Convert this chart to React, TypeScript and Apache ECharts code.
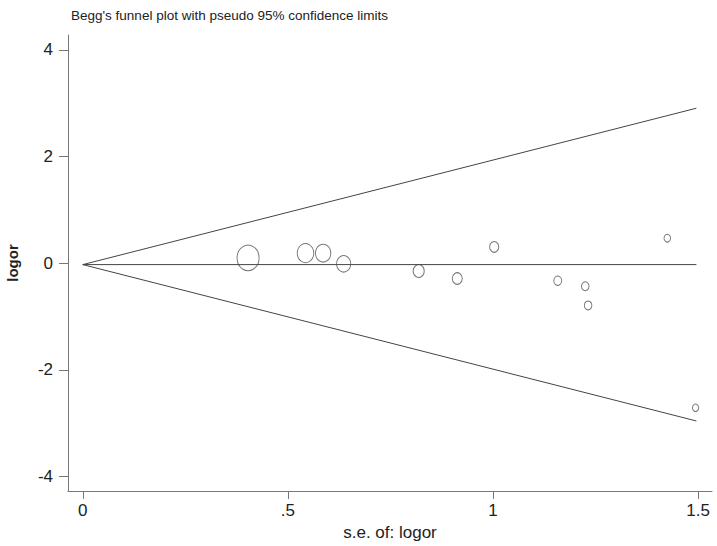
import React, { useEffect, useRef } from "react";
import * as echarts from "echarts";

// Standard error of logor (x) and logor (y) for each study
const seValues = [0.403, 0.543, 0.586, 0.636, 0.819, 0.913, 1.003, 1.158, 1.225, 1.232, 1.425, 1.494];
const logorValues = [0.1, 0.19, 0.19, -0.01, -0.145, -0.285, 0.306, -0.326, -0.43, -0.79, 0.47, -2.71];
const pooledLogor = -0.025;
const xTicks = [0, 0.5, 1, 1.5];
const yTicks = [-4, -2, 0, 2, 4];
const titleText = "Begg's funnel plot with pseudo 95% confidence limits";
const xTitle = "s.e. of: logor";
const yTitle = "logor";

export default function App() {
  const ref = useRef<HTMLDivElement>(null);
  useEffect(() => {
    if (!ref.current) return;
    const chart = echarts.init(ref.current, null, { renderer: "svg" });
    const seMax = Math.max(...seValues) + 0.002;
    const points = seValues.map((s, i) => [s, logorValues[i]]);
    const lineStyle = { color: "#444", width: 1 };
    const font = "'Liberation Sans', Arial, Helvetica, sans-serif";
    chart.setOption({
      animation: false,
      backgroundColor: "#fff",
      textStyle: { fontFamily: font },
      title: {
        text: titleText,
        left: 66,
        top: 3,
        textStyle: { fontSize: 13.5, fontWeight: "normal", color: "#222", fontFamily: font },
      },
      grid: { left: 68, top: 35, right: 5, bottom: 55, containLabel: false, outerBoundsMode: "none" },
      xAxis: {
        type: "value",
        min: -0.036,
        max: 1.534,
        name: xTitle,
        nameLocation: "middle",
        nameGap: 31,
        nameTextStyle: { fontSize: 17, color: "#222", fontFamily: font },
        axisLine: { show: true, onZero: false, lineStyle: { color: "#777", width: 1 } },
        axisTick: { show: true, length: 8, customValues: xTicks, lineStyle: { color: "#777" } },
        axisLabel: {
          customValues: xTicks,
          fontSize: 17,
          color: "#222",
          margin: 11,
          formatter: (v: number) => (v === 0 ? "0" : String(v).replace(/^0\./, ".")),
        },
        splitLine: { show: false },
      },
      yAxis: {
        type: "value",
        min: -4.27,
        max: 4.28,
        name: yTitle,
        nameLocation: "middle",
        nameGap: 48,
        nameRotate: 90,
        nameTextStyle: { fontSize: 15, fontWeight: "bold", color: "#222", fontFamily: font },
        axisLine: { show: true, onZero: false, lineStyle: { color: "#777", width: 1 } },
        axisTick: { show: true, length: 9, customValues: yTicks, lineStyle: { color: "#777" } },
        axisLabel: { customValues: yTicks, fontSize: 17, color: "#222", margin: 15 },
        splitLine: { show: false },
      },
      series: [
        {
          type: "line",
          data: [[0, pooledLogor], [seMax, pooledLogor + 1.96 * seMax]],
          symbol: "none",
          lineStyle,
          silent: true,
        },
        {
          type: "line",
          data: [[0, pooledLogor], [seMax, pooledLogor - 1.96 * seMax]],
          symbol: "none",
          lineStyle,
          silent: true,
        },
        {
          type: "line",
          data: [[0, pooledLogor], [seMax, pooledLogor]],
          symbol: "none",
          lineStyle,
          silent: true,
        },
        {
          type: "scatter",
          data: points,
          symbol: "circle",
          symbolSize: (val: number[]) => {
            const w = 1.5 + 8.67 / val[0];
            return [w - 1, w * 1.15 - 1];
          },
          itemStyle: { color: "rgba(0,0,0,0)", borderColor: "#555", borderWidth: 1 },
        },
      ],
    });
    return () => chart.dispose();
  }, []);
  return (
    <div
      ref={ref}
      style={{ position: "fixed", left: 0, top: 0, width: 717, height: 546, background: "#fff" }}
    />
  );
}
